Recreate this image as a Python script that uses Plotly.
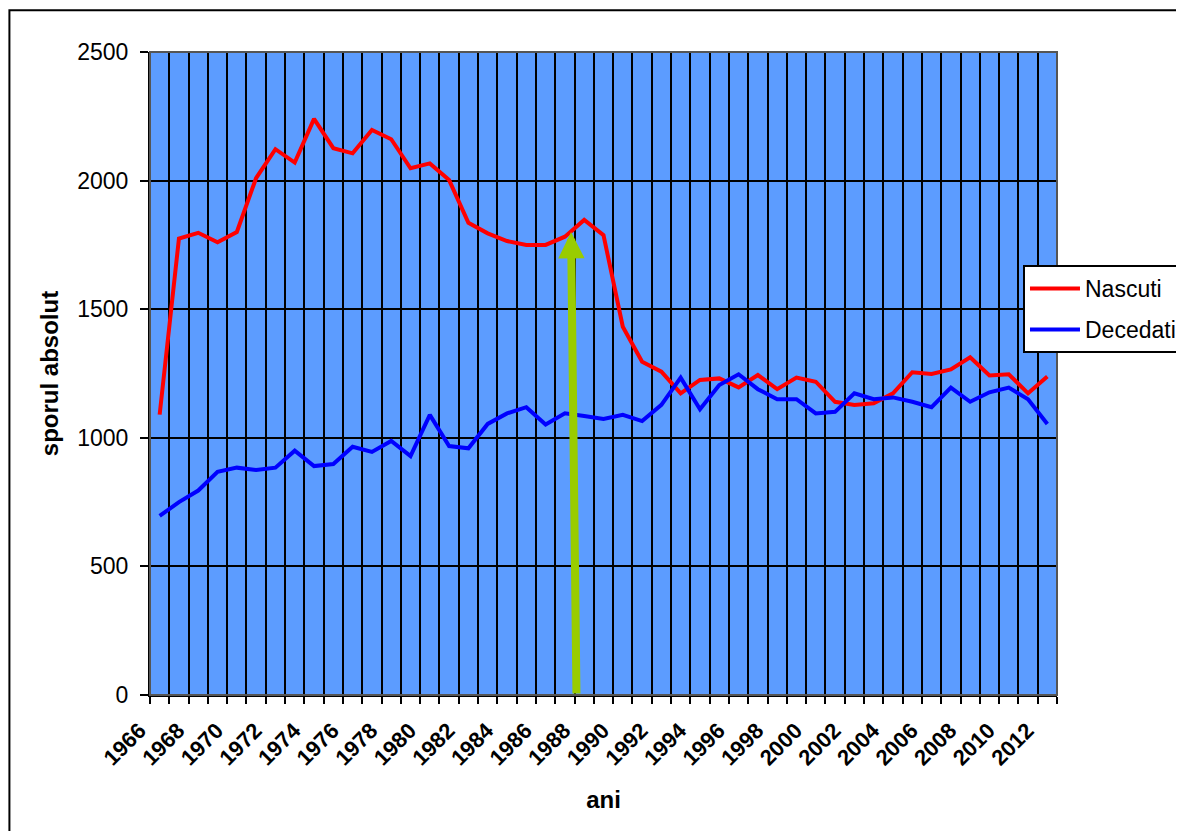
import plotly.graph_objects as go

years = list(range(1966, 2013))
nascuti = [1090, 1775, 1797, 1760, 1800, 2010, 2122, 2070, 2240, 2126, 2106, 2197, 2161, 2048, 2067, 2002,
           1836, 1795, 1765, 1750, 1750, 1782, 1847, 1788, 1432, 1296, 1257, 1173, 1225, 1231, 1196, 1244,
           1189, 1234, 1218, 1140, 1128, 1134, 1173, 1255, 1248, 1266, 1313, 1242, 1247, 1173, 1238]
decedati = [696, 750, 795, 868, 884, 875, 884, 950, 890, 898, 965, 945, 988, 929, 1089, 968,
            959, 1054, 1095, 1119, 1052, 1095, 1085, 1073, 1089, 1065, 1128, 1234, 1111, 1205, 1247, 1189,
            1150, 1150, 1095, 1101, 1173, 1150, 1157, 1140, 1119, 1195, 1140, 1177, 1195, 1150, 1054]
tick_years = years[::2]
tick_labels = [str(y) for y in tick_years]
y_ticks = [0, 500, 1000, 1500, 2000, 2500]

# arrow annotation (in data units)
arrow_tip = (1987.32, 1800)
arrow_base = (1987.6, 0)

FONT = "Liberation Sans, Arial, sans-serif"

fig = go.Figure()
fig.add_trace(go.Scatter(x=years, y=nascuti, mode="lines", name="Nascuti",
                         line=dict(color="#FF0000", width=4), legendgroup="a"))
fig.add_trace(go.Scatter(x=years, y=decedati, mode="lines", name="Decedati",
                         line=dict(color="#0000FF", width=4), legendgroup="b"))

fig.update_layout(
    width=1176, height=823,
    margin=dict(l=142, r=127, t=44, b=136, autoexpand=False),
    paper_bgcolor="white",
    plot_bgcolor="#5C9CFF",
    font=dict(family=FONT, color="black", size=23),
    showlegend=True,
    legend=dict(x=0.9625, y=0.6687, xanchor="left", yanchor="top",
                bgcolor="white", bordercolor="black", borderwidth=2,
                font=dict(size=23), tracegroupgap=8, itemwidth=50,
                entrywidth=220),
    xaxis=dict(
        range=[1965.5, 2012.5],
        tickmode="array", tickvals=tick_years, ticktext=tick_labels,
        tickangle=-45, ticks="", showgrid=False, zeroline=False,
        tickfont=dict(size=22, family=FONT, weight="bold"),
        ticklabelstandoff=12, ticklabelshift=-20,
        showline=True, linecolor="black", linewidth=2,
        minor=dict(tickmode="linear", tick0=1965.5, dtick=1, ticks="outside",
                   ticklen=7, tickwidth=2, tickcolor="black",
                   showgrid=True, gridcolor="black", gridwidth=2),
        title=dict(text="<b>ani</b>", font=dict(size=24), standoff=22),
    ),
    yaxis=dict(
        range=[0, 2500], tickmode="array", tickvals=y_ticks,
        ticks="outside", ticklen=8, tickwidth=2, tickcolor="black",
        showgrid=True, gridcolor="black", gridwidth=2, zeroline=False,
        showline=True, linecolor="black", linewidth=2,
        tickfont=dict(size=23), ticklabelstandoff=7,
        title=dict(text="<b>sporul absolut</b>", font=dict(size=24), standoff=12),
    ),
    shapes=[
        dict(type="rect", xref="paper", yref="paper", x0=0, x1=1, y0=0, y1=1,
             line=dict(color="#555555", width=2), layer="above"),
        dict(type="rect", xref="paper", yref="paper", x0=-0.1550, x1=1.3, y0=-0.3, y1=1.065,
             line=dict(color="black", width=2), layer="below"),
    ],
    annotations=[
        dict(x=arrow_tip[0], y=arrow_tip[1], ax=arrow_base[0], ay=arrow_base[1],
             xref="x", yref="y", axref="x", ayref="y", text="",
             showarrow=True, arrowhead=2, arrowwidth=8, arrowsize=0.66,
             arrowcolor="#99CC00"),
    ],
)

fig.write_html("out.html")
